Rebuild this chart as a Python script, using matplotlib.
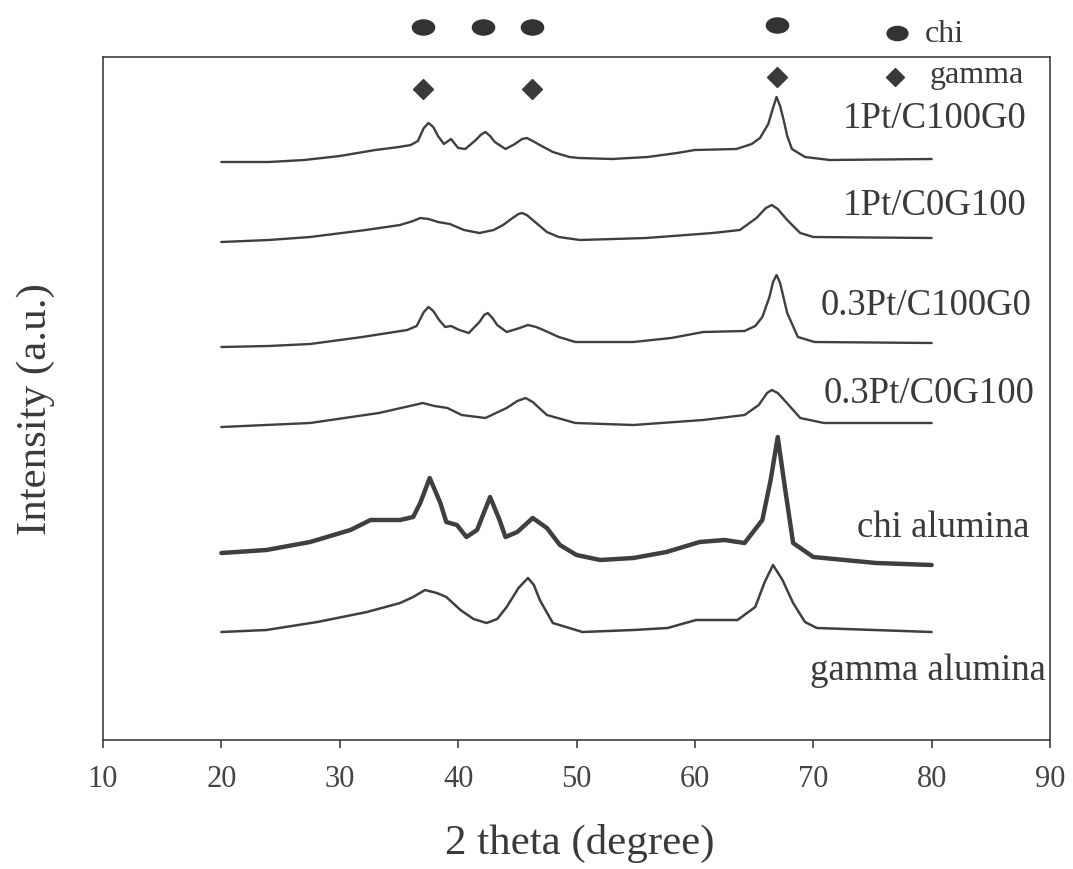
import matplotlib
matplotlib.use("Agg")
import matplotlib.pyplot as plt
from matplotlib.path import Path
from matplotlib.transforms import Affine2D

# ---- data (2theta in degree, intensity in a.u. incl. stacking offset) ----
tt1 = [20, 24, 27, 30, 33, 35, 36, 36.6, 37.1, 37.5, 37.9, 38.3, 38.8, 39.4, 40, 40.6, 41.5, 41.9, 42.3,
       42.7, 43.1, 44, 44.8, 45.4, 45.8, 46.3, 46.9, 48, 49.4, 50.2, 53, 56, 58.5, 60, 63.5, 64.8, 65.5,
       66.2, 66.6, 66.9, 67.2, 67.5, 67.8, 68.2, 69.3, 71.4, 80]
I1 = [578, 578, 580, 584, 590, 593, 595, 599, 612, 617, 613, 604, 596, 601, 592, 591, 600, 605, 608,
      604, 598, 591, 596, 601, 602, 599, 595, 588, 583, 582, 581, 583, 587, 590, 591, 596, 602,
      616, 632, 643, 634, 620, 604, 591, 583, 580, 581]

tt2 = [20, 24, 27.5, 32.2, 35.1, 36.2, 36.8, 37.5, 38.3, 39.3, 40.5, 41.8, 43, 43.8, 44.6, 45.1, 45.4, 45.8,
       46.3, 47.5, 48.5, 50.3, 55.9, 61.5, 63.8, 65.2, 66, 66.5, 67, 67.8, 68.9, 70, 80]
I2 = [498, 500, 503, 510, 515, 519, 522, 521, 518, 516, 510, 507, 510, 515, 522, 526, 527, 525,
      520, 508, 503, 500, 502, 507, 510, 522, 532, 535, 531, 520, 507, 503, 502]

tt3 = [20, 24, 27.5, 31.9, 35.7, 36.5, 37.1, 37.5, 37.9, 38.4, 38.9, 39.4, 40.1, 40.9, 41.8, 42.2, 42.5,
       42.9, 43.3, 44.1, 45.2, 45.9, 46.6, 47.2, 48.5, 49.9, 54.8, 58, 60.7, 64.2, 65.1, 65.7, 66.3, 66.6,
       66.9, 67.2, 67.5, 67.8, 68.7, 70.1, 80]
I3 = [393, 394, 396, 403, 410, 414, 428, 433, 429, 420, 413, 414, 410, 407, 418, 425, 427,
      422, 415, 408, 412, 415, 413, 410, 403, 398, 398, 402, 408, 409, 414, 423, 443, 458,
      465, 457, 442, 427, 403, 398, 397]

tt4 = [20, 27.5, 33.3, 36.3, 37, 38, 39.1, 40.3, 42.3, 44.1, 45, 45.7, 46.3, 47.5, 49.9, 54.8, 60.7,
       64.2, 65.4, 66.1, 66.5, 67, 67.7, 68.9, 70.9, 80]
I4 = [313, 317, 327, 335, 337, 334, 332, 325, 322, 332, 339, 342, 338, 325, 317, 315, 320,
      325, 335, 347, 350, 347, 338, 322, 317, 317]

tt5 = [20, 23.8, 27.5, 30.9, 32.6, 35.1, 36.2, 36.8, 37.6, 38.5, 39.0, 39.9, 40.7, 41.6, 42.7, 43.5, 44.0,
       45.0, 46.3, 47.5, 48.6, 50.0, 52.0, 54.8, 57.6, 60.4, 62.5, 64.2, 65.7, 66.4, 67.0, 67.6, 68.3, 70.0,
       75.3, 80]
I5 = [187, 190, 198, 210, 220, 220, 223, 237, 262, 237, 218, 215, 203, 210, 243, 220, 203,
      208, 222, 212, 195, 185, 180, 182, 188, 198, 200, 197, 220, 260, 303, 253, 197, 183,
      177, 175]

tt6 = [20, 23.8, 28.1, 32.3, 35.1, 36.2, 37.2, 38.2, 39.0, 40.2, 41.3, 42.4, 43.3, 44.1, 45.1, 45.9, 46.4,
       46.9, 48.0, 50.5, 54.8, 57.7, 60.1, 63.6, 65.1, 65.9, 66.6, 67.4, 68.3, 69.3, 70.3, 80]
I6 = [108, 110, 118, 128, 137, 143, 150, 147, 143, 130, 121, 117, 121, 133, 152, 162, 155,
      140, 117, 108, 110, 112, 120, 120, 133, 158, 175, 160, 137, 118, 112, 108]

sample_names = ["1Pt/C100G0", "1Pt/C0G100", "0.3Pt/C100G0", "0.3Pt/C0G100", "chi alumina", "gamma alumina"]
label_x = [88.0, 88.0, 88.45, 88.7, 88.3, 89.65]
label_y = [612, 525, 425, 337, 203, 60]

chi_peaks = [37.0, 42.1, 46.2, 66.9]
chi_level = [713, 713, 713, 715]
gamma_peaks = [37.0, 46.2, 66.9]
gamma_level = [651, 651, 663]

xticks = [10, 20, 30, 40, 50, 60, 70, 80, 90]

# ---- figure ----
W, H = 1073, 869
fig = plt.figure(figsize=(W / 100, H / 100), dpi=100)
ax = fig.add_axes([103 / W, 1 - 740 / H, (1050 - 103) / W, (740 - 57) / H])

serif = ["Liberation Serif", "DejaVu Serif"]
dark = "#3f3f3f"

curves = [(tt1, I1), (tt2, I2), (tt3, I3), (tt4, I4), (tt5, I5), (tt6, I6)]
widths = [1.7, 1.7, 1.7, 1.7, 3.2, 1.8]
for (x, y), lw in zip(curves, widths):
    ax.plot(x, y, color=dark, lw=lw, solid_joinstyle="round", solid_capstyle="round")

for name, lx, ly in zip(sample_names, label_x, label_y):
    ax.text(lx, ly, name, ha="right", va="baseline", fontsize=26.5, family=serif, color="#3a3a3a")

# phase markers
ell = Path.unit_circle().transformed(Affine2D().scale(1.0, 0.68))
ax.plot(chi_peaks, chi_level, ls="none", marker=ell, ms=16, color="#333333", clip_on=False)
ax.plot(gamma_peaks, gamma_level, ls="none", marker="D", ms=10, color="#3a3a3a", clip_on=False)

# legend-like annotations
ax.plot([77.1], [707], ls="none", marker=ell, ms=15, color="#333333", clip_on=False)
ax.text(79.4, 698, "chi", ha="left", va="baseline", fontsize=23, family=serif, color="#3a3a3a")
ax.plot([76.9], [663], ls="none", marker="D", ms=9, color="#3a3a3a", clip_on=False)
ax.text(79.85, 657, "gamma", ha="left", va="baseline", fontsize=23, family=serif, color="#3a3a3a")

ax.set_xlim(10, 90)
ax.set_ylim(0, 683)
ax.set_xticks(xticks)
ax.set_xticklabels([str(t) for t in xticks], fontsize=22, family=serif, color="#444444")
ax.set_yticks([])
ax.tick_params(axis="x", direction="out", length=6, width=1.2, color=dark, pad=12)
for s in ax.spines.values():
    s.set_color(dark)
    s.set_linewidth(1.2)

fig.text(580 / W, 1 - 843 / H, "2 theta (degree)", ha="center", va="center",
         fontsize=31, family=serif, color="#3a3a3a")
fig.text(36 / W, 1 - 409 / H, "Intensity (a.u.)", ha="center", va="center", rotation=90,
         fontsize=31, family=serif, color="#3a3a3a")

fig.savefig("out.png", dpi=100, facecolor="white")
